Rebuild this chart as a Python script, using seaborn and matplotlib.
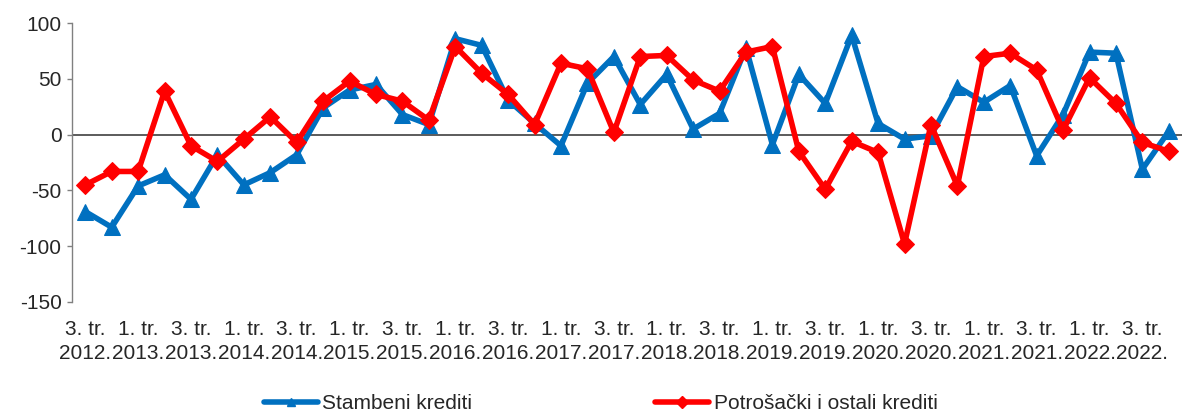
import matplotlib
matplotlib.use("Agg")
import matplotlib.pyplot as plt
from matplotlib.lines import Line2D
import seaborn as sns
import pandas as pd
import numpy as np

# quarters 3. tr. 2012 .. 4. tr. 2022
quarters = [f"{q}. tr. {y}." for y in range(2012, 2023) for q in (1, 2, 3, 4)][2:]

stambeni = [-69, -83, -46, -36, -58, -18, -45, -34, -18, 24, 40, 45, 18, 9,
            86, 80, 31, 10, -10, 46, 70, 27, 54, 5, 19, 78, -9, 54,
            28, 89, 10, -4, -1, 43, 29, 44, -19, 18, 74, 73, -31, 3]
potrosacki = [-45, -33, -33, 39, -10, -24, -4, 16, -7, 30, 48, 36, 30, 13,
              79, 55, 36, 9, 64, 59, 2, 70, 71, 49, 39, 74, 79, -15,
              -49, -6, -16, -98, 9, -46, 70, 73, 58, 4, 51, 28, -7, -15]

series_names = ["Stambeni krediti", "Potrošački i ostali krediti"]
colors = ["#0070C0", "#FF0000"]
markers = ["^", "D"]

yticks = [-150, -100, -50, 0, 50, 100]

df = pd.DataFrame({"idx": np.arange(len(quarters)),
                   "Stambeni krediti": stambeni,
                   "Potrošački i ostali krediti": potrosacki})

sns.set_style("white")
plt.rcParams['font.family'] = ['Liberation Sans', 'DejaVu Sans']

fig = plt.figure(figsize=(11.82, 4.12), dpi=100)
ax = fig.add_axes([0.061, 0.267, 0.939, 0.677])

ax.axhline(0, color="#404040", lw=1.2, zorder=1)

for name, c, m, ms in zip(series_names, colors, markers, [12, 9.5]):
    sns.lineplot(data=df, x="idx", y=name, ax=ax, color=c, marker=m,
                 markersize=ms, markeredgecolor=c, lw=4, zorder=3)

ax.set_xlim(-0.5, len(quarters) - 0.5)
ax.set_ylim(-150, 100)
ax.set_yticks(yticks)
ax.set_yticklabels([str(t) for t in yticks], fontsize=15)

tick_pos = list(range(0, len(quarters), 2))
tick_lab = [quarters[i].replace(" 20", "\n20") for i in tick_pos]
ax.set_xticks(tick_pos)
ax.set_xticklabels(tick_lab, fontsize=15, linespacing=1.35)
ax.tick_params(axis="x", length=0, pad=13)
ax.tick_params(axis="y", length=3.6, width=1, color="#808080", direction="out", pad=4, left=True)
ax.set_xlabel("")
ax.set_ylabel("")

for s in ["top", "right", "bottom"]:
    ax.spines[s].set_visible(False)
ax.spines["left"].set_color("#808080")
ax.spines["left"].set_linewidth(1)

handles = [Line2D([], [], color=c, marker=m, markersize=6, lw=4) for c, m in zip(colors, markers)]
fig.legend(handles, series_names, loc="center", bbox_to_anchor=(0.508, 0.02), ncol=2,
           frameon=False, fontsize=15, handlelength=2.6, handletextpad=0.2,
           columnspacing=8.8, borderpad=0)

fig.savefig("out.png", dpi=100)
